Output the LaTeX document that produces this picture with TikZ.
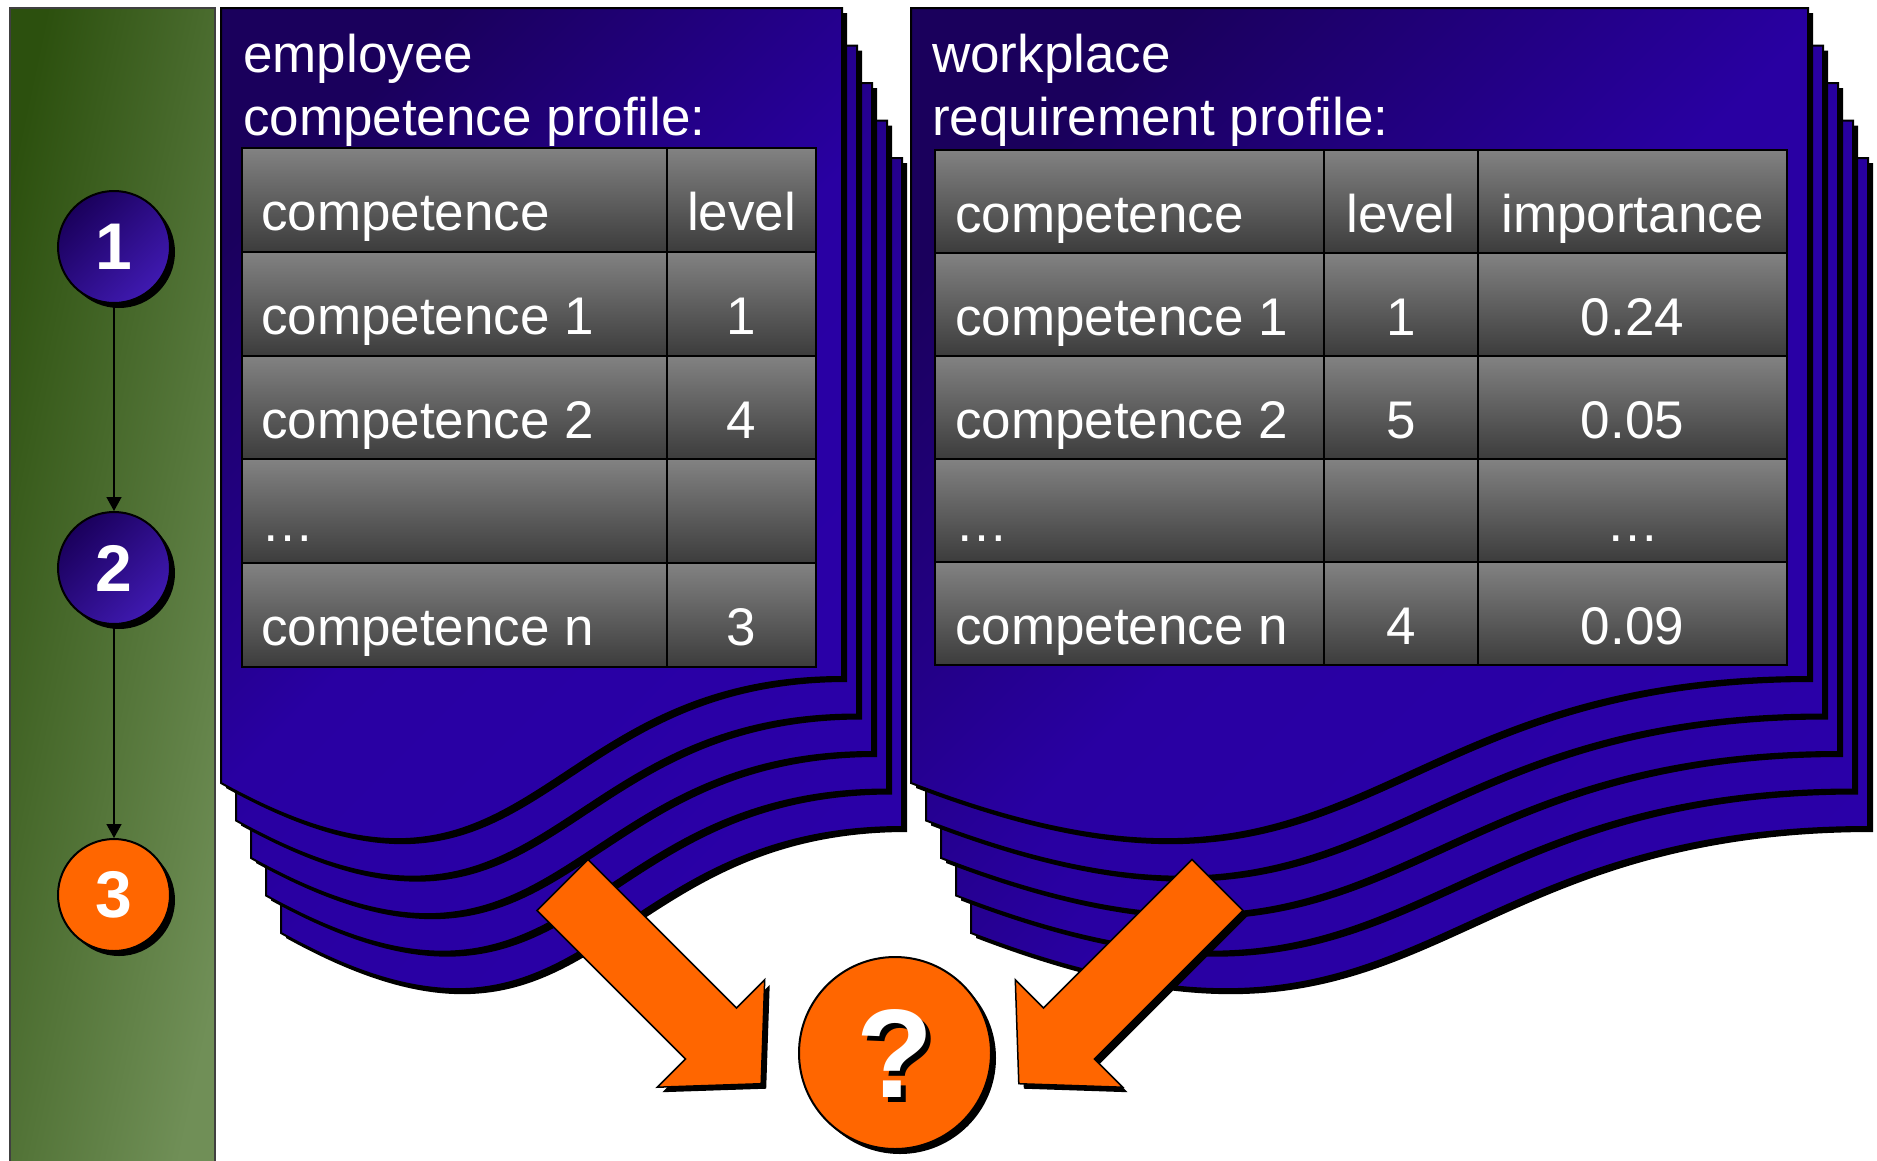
\documentclass[tikz,border=0pt]{standalone}
\usepackage{fontspec}
\setmainfont{Liberation Sans}
\usetikzlibrary{arrows.meta,shadows}
\definecolor{pgDark}{RGB}{26,0,92}
\definecolor{pgBright}{RGB}{42,0,168}
\definecolor{grDark}{RGB}{44,80,14}
\definecolor{grLight}{RGB}{112,143,87}
\definecolor{orng}{RGB}{255,102,0}
\definecolor{cellTop}{RGB}{130,130,130}
\definecolor{cellBot}{RGB}{60,60,60}
\newcommand{\bigtxt}{\fontsize{53}{63}\selectfont}
\begin{document}
\begin{tikzpicture}[x=1pt,y=-1pt,
  shadowed/.style={drop shadow={shadow xshift=5pt,shadow yshift=-5pt,fill=black,opacity=1}},
  pagefill/.style={top color=pgDark,bottom color=pgBright,middle color=pgBright!92!pgDark,shading angle=45,draw=black,line width=2pt,shadowed},
  cell/.style={rectangle,inner sep=0,outer sep=0,top color=cellTop,bottom color=cellBot,draw=black,line width=2pt,anchor=north west},
  celltxt/.style={inner sep=0,text=white,font=\bigtxt},
  titletxt/.style={inner sep=0,text=white,font=\bigtxt,anchor=base west},
  numcirc/.style={circle,minimum size=112,inner sep=0,draw=black,line width=2pt,shadowed,text=white,font=\fontsize{66}{66}\selectfont\bfseries},
  bluecirc/.style={numcirc,top color=pgDark,bottom color=pgBright!90!white,shading angle=45},
  flowarrow/.style={line width=1.5pt,-{Triangle[width=15pt,length=14pt]}},
  orangearrow/.style={fill=orng,draw=black,line width=1.5pt,shadowed}
]
\useasboundingbox (0,0) rectangle (1877,1160);
\fill[white] (0,0) rectangle (1877,1160);

% green panel
\path[top color=grDark,bottom color=grLight,shading angle=78,draw=black!75,line width=1.5pt] (10,8) rectangle (215,1166);

% left document stack
\foreach \i in {4,3,2,1,0}{
  \path[pagefill] (221+15*\i,8+37.5*\i) -- (842+15*\i,8+37.5*\i) -- (842+15*\i,677+37.5*\i)
     .. controls (531.5+15*\i,677+37.5*\i) and (531.5+15*\i,955+37.5*\i) .. (221+15*\i,783+37.5*\i) -- cycle;
}
% right document stack
\foreach \i in {4,3,2,1,0}{
  \path[pagefill] (911+15*\i,8+37.5*\i) -- (1808+15*\i,8+37.5*\i) -- (1808+15*\i,677+37.5*\i)
     .. controls (1359.5+15*\i,677+37.5*\i) and (1359.5+15*\i,955+37.5*\i) .. (911+15*\i,783+37.5*\i) -- cycle;
}

% titles
\node[titletxt] (t1a) at (243,72) {employee};
\node[titletxt] (t1b) at (243,135) {competence profile:};
\node[titletxt] (t2a) at (932,72) {workplace};
\node[titletxt] (t2b) at (932,135) {requirement profile:};

% left table cells
\foreach \r in {0,...,4}{
  \node[cell,minimum width=425,minimum height=103.8] (L\r-a) at (242,148+103.8*\r) {};
  \node[cell,minimum width=149,minimum height=103.8] (L\r-b) at (667,148+103.8*\r) {};
}
% right table cells
\foreach \r in {0,...,4}{
  \node[cell,minimum width=389,minimum height=103] (R\r-a) at (935,150+103*\r) {};
  \node[cell,minimum width=154,minimum height=103] (R\r-b) at (1324,150+103*\r) {};
  \node[cell,minimum width=309,minimum height=103] (R\r-c) at (1478,150+103*\r) {};
}

% left table text
\node[celltxt,anchor=base west] (Lt0a) at (261,230) {competence};
\node[celltxt,anchor=base] (Lt0b) at (741.5,230) {level};
\node[celltxt,anchor=base west] (Lt1a) at (261,334) {competence 1};
\node[celltxt,anchor=base] (Lt1b) at (741.5,334) {1};
\node[celltxt,anchor=base west] (Lt2a) at (261,438) {competence 2};
\node[celltxt,anchor=base] (Lt2b) at (741.5,438) {4};
\node[celltxt,anchor=base west] (Lt3a) at (261,541) {…};
\node[celltxt,anchor=base west] (Lt4a) at (261,645) {competence n};
\node[celltxt,anchor=base] (Lt4b) at (741.5,645) {3};

% right table text
\node[celltxt,anchor=base west] (Rt0a) at (955,232) {competence};
\node[celltxt,anchor=base] (Rt0b) at (1401,232) {level};
\node[celltxt,anchor=base] (Rt0c) at (1632.5,232) {importance};
\node[celltxt,anchor=base west] (Rt1a) at (955,335) {competence 1};
\node[celltxt,anchor=base] (Rt1b) at (1401,335) {1};
\node[celltxt,anchor=base] (Rt1c) at (1632.5,335) {0.24};
\node[celltxt,anchor=base west] (Rt2a) at (955,438) {competence 2};
\node[celltxt,anchor=base] (Rt2b) at (1401,438) {5};
\node[celltxt,anchor=base] (Rt2c) at (1632.5,438) {0.05};
\node[celltxt,anchor=base west] (Rt3a) at (955,541) {…};
\node[celltxt,anchor=base] (Rt3c) at (1632.5,541) {…};
\node[celltxt,anchor=base west] (Rt4a) at (955,644) {competence n};
\node[celltxt,anchor=base] (Rt4b) at (1401,644) {4};
\node[celltxt,anchor=base] (Rt4c) at (1632.5,644) {0.09};

% orange block arrows
\path[orangearrow] (537,910.5) -- (588,859.5) -- (736.5,1008) -- (764.7,979.8) -- (761.2,1083.7) -- (657.3,1087.2) -- (685.5,1059) -- cycle;
\path[orangearrow] (1243,910.5) -- (1192,859.5) -- (1043.5,1008) -- (1015.3,979.8) -- (1018.8,1083.7) -- (1122.7,1087.2) -- (1094.5,1059) -- cycle;

% question circle (the black copy of the question mark is its drop shadow)
\node[circle,minimum size=192,inner sep=0,fill=orng,draw=black,line width=2pt,shadowed,
  text=white,font=\fontsize{126}{126}\selectfont\bfseries,
  path picture={\node[inner sep=0,text=black,font=\fontsize{126}{126}\selectfont\bfseries] (qshadow)
     at ([xshift=5pt,yshift=-5pt]path picture bounding box.center) {?};}] (q) at (895,1053) {?};

% step circles
\node[bluecirc] (c1) at (114,247) {1};
\node[bluecirc] (c2) at (114,568) {2};
\node[numcirc,fill=orng] (c3) at (114,895) {3};
\draw[flowarrow] (c1) -- (c2);
\draw[flowarrow] (c2) -- (c3);
\end{tikzpicture}
\end{document}
